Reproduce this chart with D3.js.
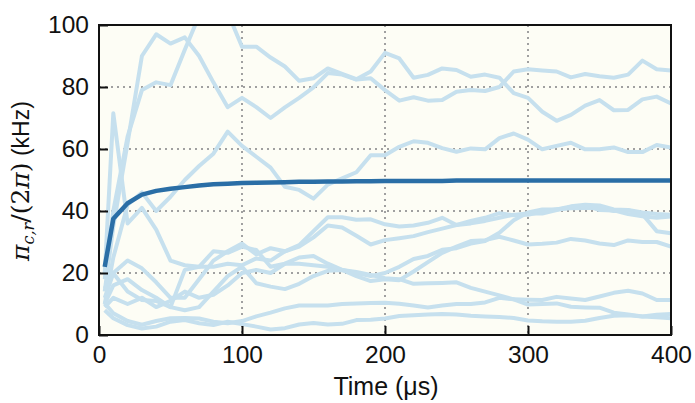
<!DOCTYPE html>
<meta charset="utf-8">
<style>
body { margin: 0; background: #fff; }
.grid line { stroke: #a0a0a0; stroke-width: 2; stroke-dasharray: 2,4; }
.axis text { font-family: "Liberation Sans", Arial, sans-serif; font-size: 24.5px; fill: #111; }
.axis line { stroke: #111; stroke-width: 2; }
.axis path { display: none; }
.run { fill: none; stroke: #c6e0ee; stroke-width: 4; stroke-linejoin: round; }
.mean { fill: none; stroke: #2a6ea6; stroke-width: 4.5; stroke-linejoin: round; }
</style>
<body></body>
<script src="https://d3js.org/d3.v7.min.js"></script>
<script>
// time points (µs)
var times = [4, 10, 20, 30, 40, 50, 60, 70, 80, 90, 100, 110, 120, 130, 140, 150, 160, 170, 180, 190,
  200, 210, 220, 230, 240, 250, 260, 270, 280, 290, 300, 310, 320, 330, 340, 350, 360, 370, 380, 390, 400];

// mean rate (kHz)
var meanRate = [22, 37.5, 42.5, 45.3, 46.5, 47.2, 47.7, 48.2, 48.6, 48.8, 49.0, 49.1, 49.2, 49.3, 49.4, 49.4,
  49.5, 49.5, 49.6, 49.6, 49.7, 49.7, 49.7, 49.7, 49.7, 49.8, 49.8, 49.8, 49.8, 49.8, 49.8, 49.8, 49.8,
  49.8, 49.8, 49.8, 49.8, 49.8, 49.8, 49.8, 49.8];

// individual runs (kHz)
var runA = [14, 35, 62, 90, 97, 94, 96, 90, 81.5, 73.5, 76.5, 73.5, 70, 73.4, 76.5, 79.9, 84.5, 84, 82.4, 82.8,
  79, 75.6, 76.7, 75.6, 75.8, 78.5, 79, 78.7, 80, 85, 85.7, 85.3, 85, 83.1, 84.2, 83.5, 83, 84, 88.5, 85.7, 85.3];
var runB = [18, 40, 64, 79, 81.5, 80.6, 92, 103, 106, 104, 93, 93, 89.5, 86.6, 82, 82.8, 86, 84.2, 82.5, 85,
  91, 89.2, 83, 83.9, 86, 85.5, 83.3, 84, 83, 78, 76.5, 72, 69.1, 71, 74, 75.8, 72.5, 72.6, 76, 76.9, 74.7];
var runC = [20, 71.5, 36, 41, 34, 24, 22.5, 22, 22, 23, 22.5, 24.7, 24, 27, 29, 33.5, 38, 38, 37.2, 37.3,
  35.7, 35, 35.3, 36.2, 37.8, 35.5, 36.8, 37.8, 39.3, 38.6, 39.3, 39.2, 40.3, 41.2, 41.8, 40.3, 40.2, 39, 38.3, 37.8, 38.2];
var runD = [10, 25, 42, 46, 40, 44.6, 50, 54.5, 58.5, 65.6, 61, 57.5, 54, 47.8, 46.8, 44, 48.5, 50.5, 52.5, 58,
  58, 60.7, 62.5, 62, 60.3, 59.1, 60.2, 59.9, 63.5, 65, 63, 59.9, 61, 62, 59.9, 59.9, 60.5, 59, 59, 61.3, 60.5];
var runF = [12, 19.9, 14, 11.3, 11, 9, 8, 9, 14, 19, 22, 16.7, 15.6, 14.8, 16.5, 19, 20.7, 21, 20.3, 19.4,
  18.3, 18, 16.5, 16.7, 16.8, 17, 15.2, 14, 12.8, 11.5, 11.4, 11.3, 12.3, 11.8, 11.3, 12.4, 13.6, 14.3, 13.4, 11.3, 11.3];
var runG = [10, 16, 18, 14.5, 12, 9, 21, 22, 27, 26.5, 28.5, 27.4, 22, 23, 25, 25.5, 23, 21, 19, 17.4,
  18, 17.7, 20.5, 23.5, 26.5, 28.5, 30.3, 30.6, 31.7, 30.5, 29.2, 29.4, 29.8, 31, 30.5, 29.5, 29, 30.5, 30, 30, 28.5];
var runK = [15, 20, 24, 21.5, 17, 12, 12, 18, 24, 27, 29.5, 26, 28, 27, 28.5, 31.5, 35.3, 34.7, 32, 29.2,
  30.6, 31.2, 31.9, 33.2, 34.3, 35.5, 36, 36.8, 37.8, 38.8, 38.8, 39.8, 40.6, 40.9, 41, 41, 40, 40.3, 39, 33.5, 32.8];
var runH = [9, 12, 10, 12, 9, 11, 14, 12, 13, 16, 20, 21, 20, 23, 23, 22.5, 22, 21, 20, 19,
  20, 22, 24.5, 25.5, 27.5, 28, 29.5, 30.3, 33, 37, 39.5, 40.5, 40.5, 41.5, 42, 41.8, 40.5, 40.3, 39.5, 39, 38.8];
var runL1 = [10.2, 7, 4.5, 3.3, 4.5, 5.4, 5.5, 5.3, 4.3, 3.8, 4.5, 6, 7.2, 8.6, 9.5, 9.5, 9.5, 10, 10.2, 10.3,
  10.4, 10.1, 9.5, 8.9, 9.5, 10, 10, 10.5, 12, 11.5, 9.8, 10, 10.2, 9.1, 8.9, 8.8, 7.2, 6.6, 6, 6.5, 6.8];
var runL2 = [8, 5.4, 3.2, 2.1, 2.7, 4.3, 4.8, 3.8, 3.2, 4.3, 3.5, 2.7, 1.8, 2.2, 3.4, 3.9, 3.4, 3.6, 4.8, 4.9,
  5.3, 6.1, 6.4, 6.6, 6.8, 6.6, 6.2, 6, 5.8, 5.5, 4.7, 4.4, 4.3, 4.3, 4.6, 5.5, 6.2, 6.4, 6, 5.7, 5.4];

var runs = [runL2, runL1, runF, runH, runG, runK, runC, runD, runB, runA];

var xTicks = [0, 100, 200, 300, 400];
var yTicks = [0, 20, 40, 60, 80, 100];

var margin = {top: 25, right: 24, bottom: 68, left: 99},
    width = 695 - margin.left - margin.right,
    height = 403 - margin.top - margin.bottom;

var x = d3.scaleLinear().domain([0, 400]).range([0, width]);
var y = d3.scaleLinear().domain([0, 100]).range([height, 0]);

var svg = d3.select("body").append("svg")
    .attr("width", 695)
    .attr("height", 403)
  .append("g")
    .attr("transform", "translate(" + margin.left + "," + margin.top + ")");

// plot background
svg.append("rect")
    .attr("width", width)
    .attr("height", height)
    .attr("fill", "#fdfdf5");

svg.append("clipPath").attr("id", "clip")
  .append("rect").attr("width", width).attr("height", height);

// dotted grid
var grid = svg.append("g").attr("class", "grid");
grid.selectAll(".gx").data(xTicks.slice(1, -1)).enter().append("line")
    .attr("x1", d => x(d)).attr("x2", d => x(d))
    .attr("y1", 0).attr("y2", height);
grid.selectAll(".gy").data(yTicks.slice(1, -1)).enter().append("line")
    .attr("x1", 0).attr("x2", width)
    .attr("y1", d => y(d)).attr("y2", d => y(d));

var line = d3.line()
    .x(function(d, i) { return x(times[i]); })
    .y(function(d) { return y(d); });

var plot = svg.append("g").attr("clip-path", "url(#clip)");

plot.selectAll(".run")
    .data(runs)
  .enter().append("path")
    .attr("class", "run")
    .attr("d", line);

plot.append("path")
    .datum(meanRate)
    .attr("class", "mean")
    .attr("d", line);

// axes with inward ticks
svg.append("g")
    .attr("class", "axis")
    .attr("transform", "translate(0," + height + ")")
    .call(d3.axisBottom(x).tickValues(xTicks).tickSize(-9).tickPadding(11));

svg.append("g")
    .attr("class", "axis")
    .call(d3.axisLeft(y).tickValues(yTicks).tickSize(-9).tickPadding(10));

// frame
svg.append("rect")
    .attr("width", width)
    .attr("height", height)
    .attr("fill", "none")
    .attr("stroke", "#111")
    .attr("stroke-width", 2);

svg.append("text")
    .attr("x", width / 2 + 1)
    .attr("y", height + 60)
    .attr("text-anchor", "middle")
    .style("font-family", "Liberation Sans, Arial, sans-serif")
    .style("font-size", "25px")
    .style("fill", "#111")
    .text("Time (μs)");

// y label: π_{c,r}/(2π) (kHz)
var yl = d3.select("svg").append("text")
    .attr("transform", "translate(29,181) rotate(-90)")
    .attr("text-anchor", "middle")
    .style("fill", "#111")
    .style("font-size", "25px");
yl.append("tspan").style("font-family", "DejaVu Serif").style("font-style", "italic").text("π");
yl.append("tspan").style("font-family", "DejaVu Serif").style("font-style", "italic")
    .style("font-size", "16px").attr("dy", 5).text("c,r");
yl.append("tspan").style("font-family", "DejaVu Serif").attr("dy", -5).text("/(2");
yl.append("tspan").style("font-family", "DejaVu Serif").style("font-style", "italic").text("π");
yl.append("tspan").style("font-family", "DejaVu Serif").text(")");
yl.append("tspan").style("font-family", "Liberation Sans, Arial, sans-serif").style("font-size", "23px")
    .text(" (kHz)");
</script>
